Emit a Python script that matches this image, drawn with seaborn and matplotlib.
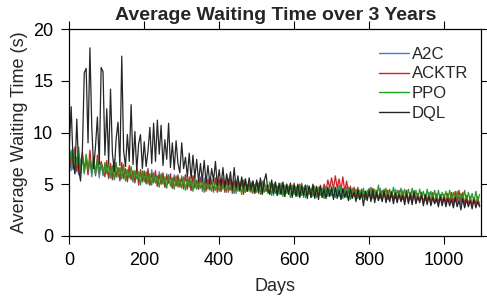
import numpy as np
import pandas as pd
import matplotlib
matplotlib.use("Agg")
import matplotlib.pyplot as plt
import seaborn as sns

# sampled every 5 days, day 0 .. 1095
days = np.arange(0, 1100, 5)

a2c = [
    7.9, 6.3, 8.4, 6.0, 7.6, 5.9, 7.3, 7.8, 6.1, 7.7, 6.0, 7.2, 5.7, 7.4, 6.2, 6.9, 5.6, 7.1, 6.0, 6.6,
    6.9, 5.5, 6.8, 5.4, 6.9, 5.6, 6.5, 5.3, 6.7, 5.5, 6.4, 5.2, 6.6, 5.4, 6.2, 5.1, 6.5, 5.3, 6.0, 5.2,
    6.3, 5.0, 6.1, 4.9, 6.4, 5.1, 5.9, 4.8, 6.2, 5.0, 5.8, 4.7, 6.0, 5.1, 5.7, 4.6, 5.9, 4.9, 5.6, 4.8,
    5.8, 4.5, 5.9, 4.7, 5.5, 4.4, 5.8, 4.6, 5.4, 4.5, 5.7, 4.3, 5.6, 4.6, 5.3, 4.4, 5.5, 4.2, 5.4, 4.5,
    5.5, 4.3, 5.3, 4.4, 5.6, 4.2, 5.2, 4.5, 5.4, 4.1, 5.3, 4.4, 5.1, 4.2, 5.5, 4.3, 5.0, 4.4, 5.2, 4.1,
    5.3, 4.2, 5.1, 4.0, 5.4, 4.3, 4.9, 4.1, 5.2, 3.9, 5.0, 4.2, 4.8, 4.0, 5.1, 3.8, 4.9, 4.1, 5.0, 3.9,
    5.0, 3.9, 4.8, 4.0, 5.1, 3.7, 4.9, 3.9, 4.7, 4.0, 4.9, 3.8, 4.6, 3.9, 4.8, 3.7, 4.7, 3.9, 4.5, 3.8,
    4.8, 3.7, 4.6, 3.8, 4.9, 3.6, 4.5, 3.8, 4.7, 3.5, 4.6, 3.7, 4.4, 3.6, 4.7, 3.5, 4.5, 3.7, 4.3, 3.6,
    4.6, 3.5, 4.5, 3.7, 4.3, 3.4, 4.6, 3.6, 4.2, 3.5, 4.4, 3.6, 4.3, 3.3, 4.5, 3.5, 4.2, 3.4, 4.4, 3.3,
    4.3, 3.4, 4.2, 3.3, 4.4, 3.2, 4.1, 3.4, 4.2, 3.1, 4.0, 3.3, 4.2, 3.2, 3.9, 3.1, 4.1, 3.2, 3.9, 3.0,
    4.0, 3.1, 3.9, 3.2, 3.8, 2.9, 4.0, 3.1, 3.7, 3.0, 3.9, 2.8, 3.8, 3.0, 3.6, 2.9, 3.7, 3.0, 3.5, 2.9,
]

acktr = [
    6.1, 7.9, 6.5, 8.6, 6.2, 7.6, 6.0, 8.1, 6.4, 7.5, 5.9, 8.3, 6.3, 7.3, 5.8, 7.8, 6.1, 7.2, 6.5, 5.7,
    7.3, 5.6, 7.0, 5.5, 7.4, 5.8, 6.6, 5.4, 7.1, 5.6, 6.5, 5.3, 6.8, 5.5, 6.3, 5.2, 6.6, 4.9, 6.4, 5.3,
    6.2, 5.1, 6.5, 4.9, 6.0, 5.2, 6.3, 4.8, 5.9, 5.0, 6.1, 4.7, 5.8, 5.1, 6.0, 4.6, 5.7, 4.8, 5.9, 4.7,
    5.6, 4.6, 5.9, 4.5, 5.7, 4.4, 5.8, 4.7, 5.3, 4.5, 5.6, 4.6, 5.2, 4.3, 5.5, 4.5, 5.3, 4.4, 5.6, 4.2,
    5.4, 4.3, 5.6, 4.2, 5.3, 4.4, 5.5, 4.1, 5.2, 4.4, 5.1, 4.3, 5.4, 4.0, 5.2, 4.3, 5.0, 4.2, 5.3, 4.1,
    5.2, 4.1, 5.3, 4.0, 5.1, 4.3, 4.9, 4.1, 5.0, 4.2, 5.2, 3.9, 4.9, 4.1, 4.8, 4.0, 5.0, 4.2, 4.8, 3.9,
    5.1, 3.9, 4.9, 3.8, 5.0, 4.0, 4.7, 3.9, 4.8, 3.7, 5.0, 3.9, 4.8, 3.8, 4.9, 4.0, 5.0, 4.3, 5.4, 4.6,
    5.6, 4.5, 5.8, 4.6, 5.5, 4.4, 5.7, 4.3, 5.3, 4.1, 4.8, 3.8, 4.7, 3.7, 4.6, 3.6, 4.5, 3.8, 4.3, 3.7,
    4.5, 3.6, 4.6, 3.5, 4.4, 3.6, 4.3, 3.4, 4.5, 3.5, 4.4, 3.4, 4.3, 3.6, 4.2, 3.3, 4.4, 3.5, 4.2, 3.4,
    4.4, 3.3, 4.2, 3.4, 4.3, 3.2, 4.1, 3.4, 4.2, 3.2, 4.0, 3.3, 4.1, 3.1, 4.2, 3.2, 3.9, 3.1, 4.0, 3.2,
    4.0, 3.1, 4.1, 3.3, 4.2, 3.2, 4.3, 3.4, 4.4, 3.3, 4.2, 3.1, 3.9, 3.0, 3.8, 2.9, 3.7, 3.0, 3.8, 2.9,
]

ppo = [
    7.2, 8.3, 6.4, 8.0, 6.8, 8.6, 6.3, 7.6, 6.0, 7.9, 6.5, 7.4, 6.1, 7.7, 5.9, 7.3, 6.2, 7.0, 5.8, 7.1,
    6.0, 7.0, 5.6, 6.8, 5.4, 7.1, 5.7, 6.6, 5.5, 6.9, 5.3, 6.4, 5.6, 6.7, 5.2, 6.3, 5.5, 6.2, 4.9, 6.3,
    5.2, 6.2, 5.0, 6.0, 4.9, 6.1, 5.1, 5.8, 4.7, 6.0, 5.0, 5.7, 4.6, 5.9, 4.8, 5.6, 4.5, 5.8, 4.7, 5.5,
    4.6, 5.7, 4.4, 5.6, 4.7, 5.4, 4.3, 5.7, 4.5, 5.3, 4.6, 5.5, 4.2, 5.4, 4.5, 5.2, 4.3, 5.5, 4.4, 5.1,
    4.3, 5.4, 4.5, 5.2, 4.2, 5.5, 4.4, 5.1, 4.1, 5.3, 4.3, 5.2, 4.0, 5.4, 4.2, 5.0, 4.3, 5.2, 4.1, 5.0,
    4.2, 5.1, 4.0, 5.3, 4.2, 4.9, 4.1, 5.2, 3.9, 5.0, 4.1, 4.8, 4.0, 5.1, 3.8, 4.9, 4.1, 4.8, 3.7, 4.9,
    4.0, 4.8, 3.8, 5.0, 3.9, 4.7, 3.7, 4.9, 4.0, 4.6, 3.8, 4.8, 3.7, 4.7, 3.9, 4.6, 3.6, 4.8, 3.8, 4.5,
    3.9, 4.7, 3.7, 4.6, 3.8, 4.8, 3.6, 4.5, 3.7, 4.7, 3.5, 4.6, 3.8, 4.5, 3.6, 4.4, 3.7, 4.6, 3.5, 4.4,
    3.8, 4.7, 3.6, 4.5, 3.7, 4.9, 3.6, 4.4, 3.8, 4.6, 3.5, 4.5, 3.7, 4.7, 3.6, 4.4, 3.8, 4.6, 3.5, 4.5,
    3.7, 4.5, 3.5, 4.6, 3.6, 4.4, 3.5, 4.5, 3.7, 4.3, 3.4, 4.5, 3.6, 4.3, 3.5, 4.4, 3.3, 4.4, 3.5, 4.2,
    3.6, 4.3, 3.4, 4.4, 3.5, 4.2, 3.3, 4.3, 3.5, 4.1, 3.4, 4.4, 3.3, 4.2, 3.4, 4.1, 3.2, 4.3, 3.3, 4.0,
]

dql = [
    8.8, 12.5, 7.2, 6.0, 11.3, 6.4, 5.3, 8.4, 15.8, 16.2, 9.0, 18.2, 10.5, 6.5, 8.7, 11.5, 6.9, 16.3, 15.9, 7.8,
    12.3, 7.0, 14.2, 8.0, 6.2, 9.4, 11.0, 6.8, 17.4, 8.2, 6.7, 9.8, 7.2, 12.7, 6.9, 10.1, 6.3, 8.9, 9.8, 6.5,
    9.1, 6.7, 8.2, 10.5, 7.0, 10.9, 7.2, 11.2, 7.9, 10.7, 6.8, 9.3, 7.4, 10.9, 6.6, 9.0, 6.4, 9.2, 7.0, 6.1,
    9.0, 6.5, 7.6, 5.7, 8.0, 5.5, 7.8, 5.6, 7.4, 5.2, 7.0, 5.3, 7.3, 5.1, 6.8, 5.0, 6.5, 5.3, 7.2, 4.9,
    6.4, 4.8, 6.6, 4.7, 6.0, 4.9, 6.2, 4.5, 6.6, 4.6, 5.8, 4.4, 5.7, 4.6, 5.5, 4.3, 5.6, 4.5, 5.3, 4.2,
    5.4, 4.3, 5.6, 4.1, 5.3, 6.0, 4.4, 4.0, 5.4, 4.1, 5.2, 3.9, 5.1, 4.0, 5.2, 3.8, 5.0, 4.0, 5.1, 3.7,
    4.9, 3.8, 5.0, 3.7, 4.8, 3.9, 4.9, 3.6, 4.8, 3.7, 4.9, 3.6, 4.7, 3.5, 4.8, 3.7, 4.5, 3.6, 4.7, 3.8,
    4.6, 3.5, 4.7, 3.6, 4.4, 3.5, 4.6, 3.7, 4.3, 3.4, 4.5, 3.6, 4.2, 3.3, 4.4, 3.5, 4.2, 2.9, 4.3, 3.4,
    4.3, 3.3, 4.4, 3.2, 4.2, 3.4, 4.1, 3.3, 4.3, 3.2, 4.0, 3.3, 4.2, 3.1, 4.1, 3.2, 4.0, 3.3, 3.9, 3.0,
    4.1, 3.1, 4.0, 3.0, 4.2, 3.1, 3.8, 3.2, 3.9, 2.9, 4.0, 3.0, 3.8, 2.9, 3.7, 3.1, 3.6, 2.8, 3.8, 2.9,
    3.7, 2.8, 3.6, 2.9, 3.5, 2.7, 3.7, 2.8, 3.4, 2.5, 3.6, 2.7, 3.5, 2.8, 3.4, 2.6, 3.5, 2.7, 3.3, 2.8,
]

methods = ["A2C", "ACKTR", "PPO", "DQL"]
colors = {"A2C": "#3c7ddc", "ACKTR": "#e8141a", "PPO": "#14a319", "DQL": "#262626"}

df = pd.concat([
    pd.DataFrame({"day": days, "wait": vals, "method": name})
    for name, vals in zip(methods, [a2c, acktr, ppo, dql])
])

sns.set_style("ticks")
plt.rcParams["font.family"] = ["Liberation Sans", "DejaVu Sans"]

fig = plt.figure(figsize=(4.87, 2.99), dpi=100)
ax = fig.add_axes([0.1423, 0.2117, 0.8464, 0.6903])

sns.lineplot(data=df, x="day", y="wait", hue="method", hue_order=methods,
             palette=colors, estimator=None, linewidth=0.9, ax=ax)

ax.set_xlim(0, 1100)
ax.set_ylim(0, 20)
ax.set_xticks([0, 200, 400, 600, 800, 1000])
ax.set_yticks([0, 5, 10, 15, 20])
ax.tick_params(direction="out", length=6.1, width=0.8, labelsize=13,
               top=True, right=True, colors="black")
ax.tick_params(axis="x", pad=5.5)
ax.tick_params(axis="y", pad=5.5)
for s in ax.spines.values():
    s.set_visible(True)
    s.set_linewidth(0.9)
    s.set_color("black")

ax.set_xlabel("Days", fontsize=13, labelpad=6.5)
ax.set_ylabel("Average Waiting Time (s)", fontsize=13, labelpad=4)
ax.set_title("Average Waiting Time over 3 Years", fontsize=14, fontweight="bold", pad=6.5)

leg = ax.legend(loc="upper right", frameon=False, fontsize=12, handlelength=1.8,
                handletextpad=0.16, labelspacing=0.28, borderaxespad=0.41,
                bbox_to_anchor=(1.0, 0.981))
for line in leg.get_lines():
    line.set_linewidth(1.0)

fig.savefig("out.png", dpi=100)
